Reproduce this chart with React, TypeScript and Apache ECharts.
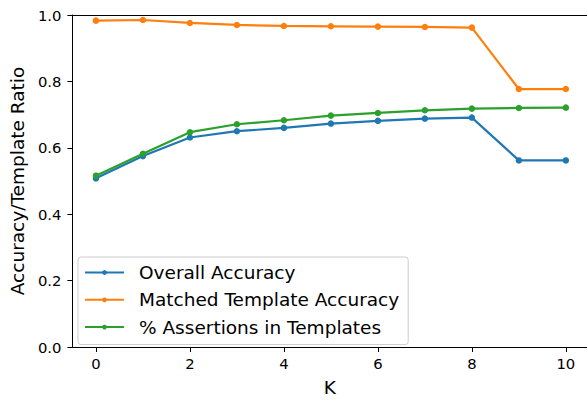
import React, { useEffect, useRef } from "react";
import * as echarts from "echarts";

const kValues = [0, 1, 2, 3, 4, 5, 6, 7, 8, 9, 10];
const overallAccuracy = [0.508, 0.575, 0.631, 0.650, 0.660, 0.673, 0.681, 0.688, 0.691, 0.562, 0.562];
const matchedTemplateAccuracy = [0.983, 0.985, 0.976, 0.970, 0.967, 0.966, 0.965, 0.964, 0.962, 0.777, 0.777];
const assertionsInTemplates = [0.516, 0.582, 0.647, 0.671, 0.683, 0.697, 0.705, 0.713, 0.718, 0.720, 0.721];
const seriesNames = ["Overall Accuracy", "Matched Template Accuracy", "% Assertions in Templates"];
const xTicks = [0, 2, 4, 6, 8, 10];
const colors = ["#1f77b4", "#ff7f0e", "#2ca02c"];

const FONT = "DejaVu Sans";

export default function App() {
  const ref = useRef<HTMLDivElement>(null);
  useEffect(() => {
    if (!ref.current) return;
    const chart = echarts.init(ref.current, undefined, { renderer: "svg" });
    const all = [overallAccuracy, matchedTemplateAccuracy, assertionsInTemplates];
    chart.setOption({
      animation: false,
      textStyle: { fontFamily: FONT },
      grid: {
        left: 68,
        right: 0,
        top: 15,
        bottom: 48,
        show: false,
      },
      legend: {
        left: 78,
        top: 257,
        orient: "vertical",
        itemWidth: 39,
        itemHeight: 6,
        itemGap: 6.3,
        padding: [5, 9, 7, 6],
        backgroundColor: "rgba(255,255,255,0.8)",
        borderColor: "#cccccc",
        borderWidth: 1,
        borderRadius: 3,
        textStyle: {
          fontFamily: FONT,
          fontSize: 18.5,
          color: "#000",
          lineHeight: 21,
          padding: [0, 0, 0, 10],
        },
        data: seriesNames,
      },
      xAxis: [
        {
          type: "value",
          min: -0.5,
          max: 10.45,
          interval: 2,
          name: "K",
          nameLocation: "middle",
          nameGap: 31,
          nameTextStyle: { fontFamily: FONT, fontSize: 18.5, color: "#000" },
          axisLine: { show: true, onZero: false, lineStyle: { color: "#000", width: 1 } },
          axisTick: { show: true, length: 5, lineStyle: { color: "#000", width: 1 }, customValues: xTicks },
          axisLabel: {
            fontFamily: FONT,
            fontSize: 14.8,
            color: "#000",
            margin: 9,
            customValues: xTicks,
          },
          splitLine: { show: false },
        },
        {
          type: "value",
          position: "top",
          min: -0.5,
          max: 10.45,
          axisLine: { show: true, onZero: false, lineStyle: { color: "#000", width: 1 } },
          axisTick: { show: false },
          axisLabel: { show: false },
          splitLine: { show: false },
        },
      ],
      yAxis: {
        type: "value",
        min: 0,
        max: 1,
        interval: 0.2,
        name: "Accuracy/Template Ratio",
        nameLocation: "middle",
        nameGap: 42,
        nameTextStyle: { fontFamily: FONT, fontSize: 18.5, color: "#000" },
        axisLine: { show: true, onZero: false, lineStyle: { color: "#000", width: 1 } },
        axisTick: { show: true, length: 5, lineStyle: { color: "#000", width: 1 } },
        axisLabel: {
          fontFamily: FONT,
          fontSize: 14.8,
          color: "#000",
          margin: 11,
          formatter: (v: number) => v.toFixed(1),
        },
        splitLine: { show: false },
      },
      series: all.map((vals, i) => ({
        name: seriesNames[i],
        type: "line",
        xAxisIndex: 0,
        data: kValues.map((k, j) => [k, vals[j]]),
        color: colors[i],
        lineStyle: { width: 2.2, color: colors[i] },
        itemStyle: { color: colors[i] },
        symbol: "circle",
        symbolSize: 6.5,
        showSymbol: true,
        z: 2 + i,
      })),
    });
    return () => chart.dispose();
  }, []);
  return (
    <div
      ref={ref}
      style={{ position: "fixed", left: 0, top: 0, width: 587, height: 402, background: "#fff" }}
    />
  );
}
